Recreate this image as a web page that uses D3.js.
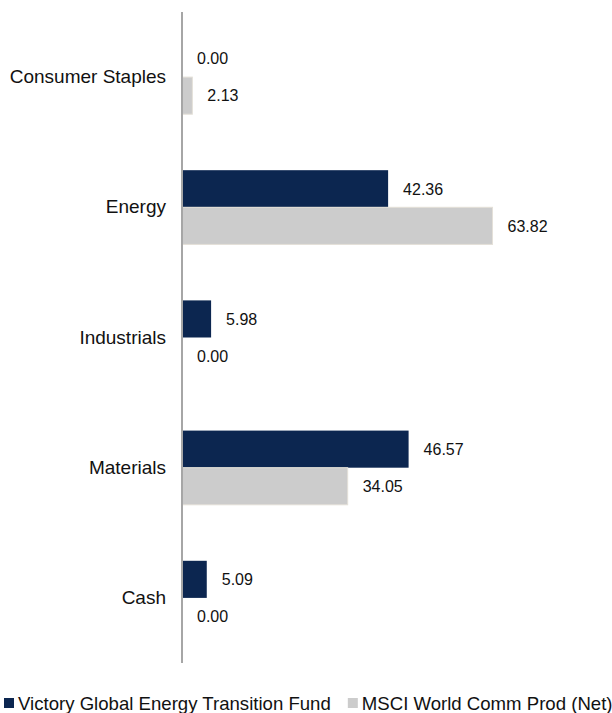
<!DOCTYPE html>
<html>
<head>
<meta charset="utf-8">
<script src="https://cdn.jsdelivr.net/npm/d3@7"></script>
<style>
  body { margin: 0; background: #fff; }
  text { font-family: "Liberation Sans", Arial, Helvetica, sans-serif; fill: #111; }
</style>
</head>
<body>
<div class="chart"></div>
<script>
var categories = ["Consumer Staples", "Energy", "Industrials", "Materials", "Cash"];
var seriesNames = ["Victory Global Energy Transition Fund", "MSCI World Comm Prod (Net)"];
var fundValues = [0.00, 42.36, 5.98, 46.57, 5.09];
var indexValues = [2.13, 63.82, 0.00, 34.05, 0.00];
var colors = ["#0c2650", "#cccccc"];

var svgWidth = 612;
var svgHeight = 713;

var svg = d3.select(".chart")
	.append("svg")
	.attr("width", svgWidth)
	.attr("height", svgHeight);

var rows = categories.map(function(c, i){
	return {cat: c, values: [fundValues[i], indexValues[i]]};
});

var axisX = 182;

var xScale = d3.scaleLinear()
	.domain([0, 70])
	.range([axisX, axisX + 340.6]);

var yScale = d3.scaleBand()
	.domain(categories)
	.range([12, 663])
	.paddingInner(0.43)
	.paddingOuter(0.215);

var y1 = d3.scaleBand()
	.domain([0, 1])
	.range([0, yScale.bandwidth()]);

var groups = svg.selectAll("g.group")
	.data(rows)
	.enter().append("g")
	.attr("class", "group")
	.attr("transform", function(d){ return "translate(0," + yScale(d.cat) + ")"; });

groups.selectAll("rect")
	.data(function(d){ return d.values.map(function(v, k){ return {v: v, k: k}; }); })
	.enter().append("rect")
	.attr("x", axisX)
	.attr("y", function(d){ return y1(d.k); })
	.attr("width", function(d){ return xScale(d.v) - axisX; })
	.attr("height", y1.bandwidth())
	.attr("fill", function(d){ return colors[d.k]; })
	.attr("stroke", function(d){ return d.k == 1 && d.v > 0 ? "#e4e0d8" : "none"; })
	.attr("stroke-width", 1);

groups.selectAll("text.val")
	.data(function(d){ return d.values.map(function(v, k){ return {v: v, k: k}; }); })
	.enter().append("text")
	.attr("class", "val")
	.attr("x", function(d){ return xScale(d.v) + 15; })
	.attr("y", function(d){ return y1(d.k) + y1.bandwidth() / 2; })
	.attr("dy", "0.36em")
	.style("font-size", "16px")
	.text(function(d){ return d.v.toFixed(2); });

// category labels
var yAxis = d3.axisLeft(yScale).tickSize(0).tickPadding(16);
var yAxisG = svg.append("g")
	.attr("transform", "translate(" + axisX + ",0)")
	.call(yAxis);
yAxisG.select(".domain").remove();
yAxisG.selectAll("text")
	.style("font-size", "19px")
	.style("font-family", "'Liberation Sans', Arial, sans-serif")
	.attr("fill", "#111");

// vertical axis line
svg.append("line")
	.attr("x1", axisX).attr("x2", axisX)
	.attr("y1", 12).attr("y2", 663)
	.attr("stroke", "#a6a6a6")
	.attr("stroke-width", 2);

// legend
var legend = svg.append("g").attr("transform", "translate(0,703)");
var lx = 4;
seriesNames.forEach(function(name, i){
	legend.append("rect")
		.attr("x", lx)
		.attr("y", -5)
		.attr("width", 10)
		.attr("height", 10)
		.attr("fill", colors[i]);
	var t = legend.append("text")
		.attr("x", lx + 14)
		.attr("y", 0)
		.attr("dy", "0.36em")
		.style("font-size", "18.6px")
		.text(name);
	lx = lx + 14 + t.node().getComputedTextLength() + 17;
});
</script>
</body>
</html>
